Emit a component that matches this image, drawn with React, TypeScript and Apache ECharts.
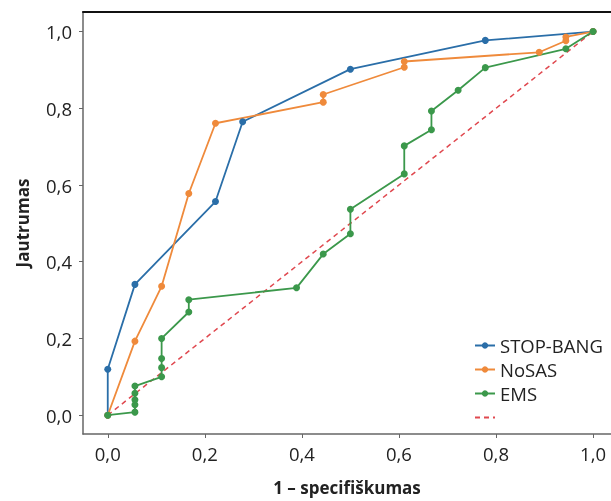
import React, { useEffect, useRef } from "react";
import * as echarts from "echarts";

const stopBangX = [0, 0, 0.056, 0.222, 0.278, 0.5, 0.778, 1.0];
const stopBangY = [0, 0.12, 0.341, 0.557, 0.765, 0.902, 0.977, 1.0];

const noSasX = [0, 0.056, 0.111, 0.167, 0.222, 0.444, 0.444, 0.611, 0.611, 0.889, 0.944, 0.944, 1.0];
const noSasY = [0, 0.193, 0.336, 0.578, 0.761, 0.816, 0.836, 0.907, 0.922, 0.946, 0.976, 0.986, 1.0];

const emsX = [0, 0.056, 0.056, 0.056, 0.056, 0.056, 0.111, 0.111, 0.111, 0.111, 0.167, 0.167, 0.389, 0.444, 0.5, 0.5, 0.611, 0.611, 0.667, 0.667, 0.722, 0.778, 0.944, 1.0];
const emsY = [0, 0.008, 0.027, 0.04, 0.057, 0.076, 0.1, 0.124, 0.148, 0.2, 0.269, 0.301, 0.332, 0.42, 0.473, 0.537, 0.629, 0.702, 0.744, 0.793, 0.847, 0.906, 0.955, 1.0];

const refX = [0, 1];
const refY = [0, 1];

const tickValues = [0, 0.2, 0.4, 0.6, 0.8, 1.0];

const seriesNames = ["STOP-BANG", "NoSAS", "EMS", " "];
const colors = ["#2a6ea8", "#ef8a3b", "#3b984b", "#e0484f"];

const zip = (xs: number[], ys: number[]) => xs.map((x, i) => [x, ys[i]]);

const fmt = (v: number) => v.toFixed(1).replace(".", ",");

export default function App() {
  const ref = useRef<HTMLDivElement>(null);
  useEffect(() => {
    if (!ref.current) return;
    const chart = echarts.init(ref.current, undefined, { renderer: "svg" });
    const font = "Open Sans";
    const lineSeries = (name: string, xs: number[], ys: number[], color: string) => ({
      name,
      type: "line",
      data: zip(xs, ys),
      symbol: "circle",
      symbolSize: 7,
      showSymbol: true,
      lineStyle: { color, width: 1.8 },
      itemStyle: { color },
      z: 3,
    });
    chart.setOption({
      animation: false,
      textStyle: { fontFamily: font },
      grid: { left: 83, right: 0, top: 12, bottom: 65 },
      legend: {
        orient: "vertical",
        left: 469,
        top: 331,
        itemWidth: 20,
        itemHeight: 8,
        itemGap: 5,
        data: [
          seriesNames[0],
          seriesNames[1],
          seriesNames[2],
          { name: seriesNames[3], itemStyle: { opacity: 0 } },
        ],
        textStyle: { fontFamily: font, fontSize: 18.5, color: "#222" },
      },
      xAxis: [
        {
          type: "value",
          min: -0.051,
          max: 1.037,
          name: "1 – specifiškumas",
          nameLocation: "middle",
          nameGap: 45,
          nameTextStyle: { fontFamily: font, fontSize: 17, fontWeight: "bold", color: "#222" },
          axisLine: { onZero: false, lineStyle: { color: "#666", width: 1.5 } },
          axisTick: { show: true, length: 4, customValues: tickValues, lineStyle: { color: "#666" } },
          axisLabel: { customValues: tickValues, formatter: fmt, fontSize: 18.5, color: "#222", margin: 10, fontFamily: font },
          splitLine: { show: false },
        },
        {
          type: "value",
          position: "top",
          min: -0.051,
          max: 1.037,
          axisLine: { show: true, onZero: false, lineStyle: { color: "#111", width: 2 } },
          axisTick: { show: false },
          axisLabel: { show: false },
          splitLine: { show: false },
        },
      ],
      yAxis: {
        type: "value",
        min: -0.049,
        max: 1.051,
        name: "Jautrumas",
        nameLocation: "middle",
        nameGap: 52,
        nameTextStyle: { fontFamily: font, fontSize: 17, fontWeight: "bold", color: "#222" },
        axisLine: { show: true, onZero: false, lineStyle: { color: "#666", width: 1.5 } },
        axisTick: { show: true, length: 4, customValues: tickValues, lineStyle: { color: "#666" } },
        axisLabel: { customValues: tickValues, formatter: fmt, fontSize: 18.5, color: "#222", margin: 11, fontFamily: font },
        splitLine: { show: false },
      },
      series: [
        lineSeries(seriesNames[0], stopBangX, stopBangY, colors[0]),
        lineSeries(seriesNames[1], noSasX, noSasY, colors[1]),
        lineSeries(seriesNames[2], emsX, emsY, colors[2]),
        {
          name: seriesNames[3],
          type: "line",
          data: zip(refX, refY),
          symbol: "none",
          lineStyle: { color: colors[3], width: 1.5, type: [5, 4] },
          itemStyle: { color: colors[3] },
          z: 2,
        },
      ],
    });
    return () => chart.dispose();
  }, []);
  return <div ref={ref} style={{ position: "fixed", left: 0, top: 0, width: 611, height: 501 }} />;
}
